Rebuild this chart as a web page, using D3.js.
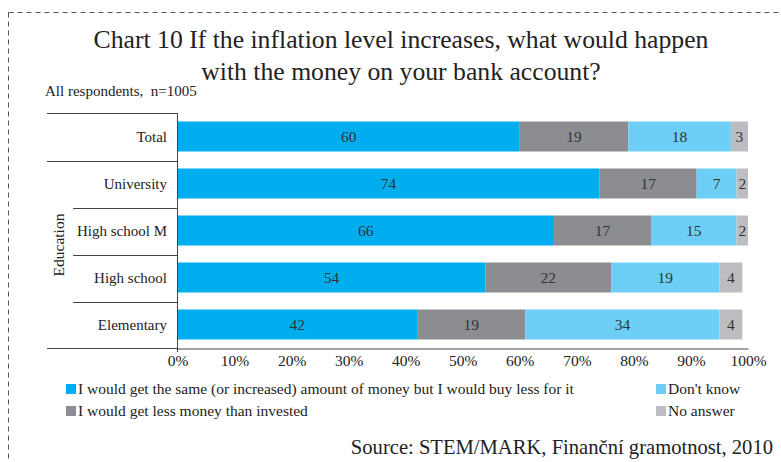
<!DOCTYPE html>
<html>
<head>
<meta charset="utf-8">
<script src="https://cdn.jsdelivr.net/npm/d3@7"></script>
<style>
  html, body { margin: 0; padding: 0; background: #fff; }
  svg { display: block; font-family: "Liberation Serif", "DejaVu Serif", serif; }
</style>
</head>
<body>
<svg id="chart" width="781" height="462"></svg>
<script>
// Survey rows (top to bottom)
const categories = ["Total", "University", "High school M", "High school", "Elementary"];
const seriesNames = [
  "I would get the same (or increased) amount of money but I would buy less for it",
  "I would get less money than invested",
  "Don't know",
  "No answer"
];
const sameMoney   = [60, 74, 66, 54, 42];
const lessMoney   = [19, 17, 17, 22, 19];
const dontKnow    = [18, 7, 15, 19, 34];
const noAnswer    = [3, 2, 2, 4, 4];
const tickValues  = [0, 10, 20, 30, 40, 50, 60, 70, 80, 90, 100];
const colors = ["#00aeef", "#8c8d91", "#6dcff6", "#bcbdc1"];

const series = [sameMoney, lessMoney, dontKnow, noAnswer];
const rows = categories.map((c, i) => {
  const r = { category: c };
  seriesNames.forEach((s, k) => r[s] = series[k][i]);
  return r;
});

const svg = d3.select("#chart");

// dashed frame
svg.append("line").attr("x1", 8.5).attr("y1", 12.5).attr("x2", 781).attr("y2", 12.5)
  .attr("stroke", "#555").attr("stroke-dasharray", "5,4");
svg.append("line").attr("x1", 8.5).attr("y1", 12.5).attr("x2", 8.5).attr("y2", 462)
  .attr("stroke", "#555").attr("stroke-dasharray", "5,4");

// titles
const title = svg.append("text").attr("text-anchor", "middle").attr("fill", "#222")
  .attr("font-size", 25.7);
title.append("tspan").attr("x", 401).attr("y", 48).text("Chart 10 If the inflation level increases, what would happen");
title.append("tspan").attr("x", 401).attr("y", 80).text("with the money on your bank account?");
svg.append("text").attr("x", 45).attr("y", 96).attr("font-size", 15).attr("fill", "#222")
  .style("white-space", "pre")
  .text("All respondents,  n=1005");

const x = d3.scaleLinear().domain([0, 100]).range([177.5, 748]);
const y = d3.scaleBand().domain(categories).range([113, 348]).paddingInner(0).paddingOuter(0);
const barH = 30;

const stack = d3.stack().keys(seriesNames)(rows);

const layers = svg.append("g").selectAll("g").data(stack).join("g")
  .attr("fill", (d, i) => colors[i]);
layers.selectAll("rect").data(d => d).join("rect")
  .attr("x", d => x(d[0]))
  .attr("width", d => x(d[1]) - x(d[0]))
  .attr("y", d => y(d.data.category) + (y.bandwidth() - barH) / 2)
  .attr("height", barH);

layers.selectAll("text").data(d => d).join("text")
  .attr("x", d => (x(d[0]) + x(d[1])) / 2)
  .attr("y", d => y(d.data.category) + y.bandwidth() / 2 + 5.5)
  .attr("text-anchor", "middle")
  .attr("font-size", 15.5)
  .attr("fill", "#333")
  .text(d => d[1] - d[0]);

// category separators and labels
const sepY = [113, 161, 208, 255, 302, 348];
const sepX = [47, 47, 73, 73, 73, 47];
sepY.forEach((yy, i) => {
  svg.append("line").attr("x1", sepX[i]).attr("x2", 177.5)
    .attr("y1", yy + 0.5).attr("y2", yy + 0.5)
    .attr("stroke", "#444").attr("stroke-width", 1);
});
svg.append("g").selectAll("text").data(categories).join("text")
  .attr("x", 167)
  .attr("y", d => y(d) + y.bandwidth() / 2 + 5.5)
  .attr("text-anchor", "end")
  .attr("font-size", 15)
  .attr("fill", "#222")
  .text(d => d);
svg.append("text")
  .attr("transform", "translate(64,245) rotate(-90)")
  .attr("text-anchor", "middle")
  .attr("font-size", 15.5).attr("fill", "#222")
  .text("Education");

// axes
const xAxis = d3.axisBottom(x).tickValues(tickValues).tickFormat(d => d + "%").tickSize(0).tickPadding(6);
const gx = svg.append("g").attr("transform", "translate(0,348.5)").call(xAxis);
gx.select(".domain").attr("stroke", "#444");
gx.selectAll("text").attr("font-size", 15.5).attr("fill", "#222")
  .attr("font-family", "Liberation Serif, DejaVu Serif, serif");
svg.append("line").attr("x1", 177.5).attr("x2", 177.5).attr("y1", 113).attr("y2", 352)
  .attr("stroke", "#444");

// legend
const legendPos = [
  { x: 66, y: 394 }, { x: 66, y: 416 }, { x: 656, y: 394 }, { x: 656, y: 416 }
];
const lg = svg.append("g").selectAll("g").data(seriesNames).join("g")
  .attr("transform", (d, i) => `translate(${legendPos[i].x},${legendPos[i].y})`);
lg.append("rect").attr("x", 0).attr("y", -10).attr("width", 10).attr("height", 10)
  .attr("fill", (d, i) => colors[i]);
lg.append("text").attr("x", 12).attr("y", 0).attr("font-size", 15.5).attr("fill", "#222")
  .text(d => d);

svg.append("text").attr("x", 773).attr("y", 454).attr("text-anchor", "end")
  .attr("font-size", 20.6).attr("fill", "#222")
  .text("Source: STEM/MARK, Finanční gramotnost, 2010");
</script>
</body>
</html>
